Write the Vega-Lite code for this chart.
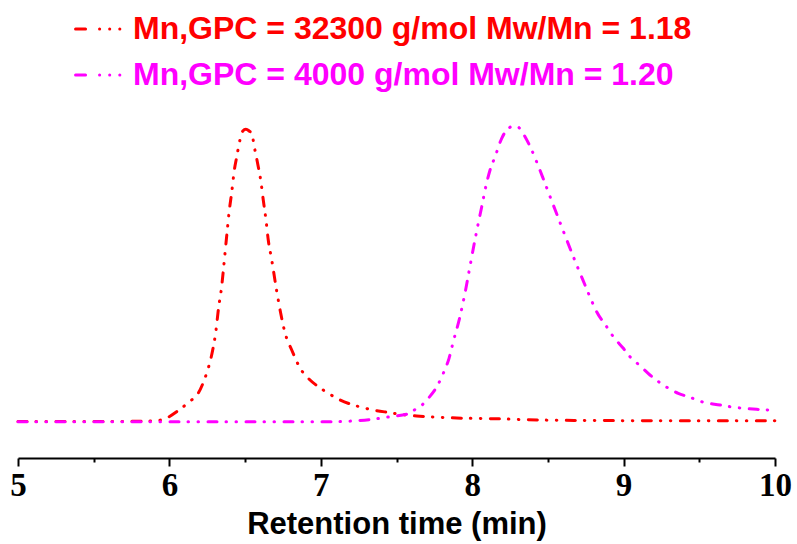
{
"$schema": "https://vega.github.io/schema/vega-lite/v6.json",
"width": 757, "height": 458,
"autosize": {"type": "none"},
"padding": {"left": 18, "top": 0, "right": 22, "bottom": 86},
"background": "white",
"config": {"view": {"stroke": null}},
"data": {"values": [
{"sample":"Mn,GPC = 32300 g/mol Mw/Mn = 1.18","time":5.0,"signal":0.17},
{"sample":"Mn,GPC = 32300 g/mol Mw/Mn = 1.18","time":5.54,"signal":0.17},
{"sample":"Mn,GPC = 32300 g/mol Mw/Mn = 1.18","time":5.81,"signal":0.24},
{"sample":"Mn,GPC = 32300 g/mol Mw/Mn = 1.18","time":5.916,"signal":0.44},
{"sample":"Mn,GPC = 32300 g/mol Mw/Mn = 1.18","time":5.982,"signal":1.35},
{"sample":"Mn,GPC = 32300 g/mol Mw/Mn = 1.18","time":6.048,"signal":3.48},
{"sample":"Mn,GPC = 32300 g/mol Mw/Mn = 1.18","time":6.092,"signal":5.17},
{"sample":"Mn,GPC = 32300 g/mol Mw/Mn = 1.18","time":6.147,"signal":7.43},
{"sample":"Mn,GPC = 32300 g/mol Mw/Mn = 1.18","time":6.191,"signal":9.8},
{"sample":"Mn,GPC = 32300 g/mol Mw/Mn = 1.18","time":6.235,"signal":14.86},
{"sample":"Mn,GPC = 32300 g/mol Mw/Mn = 1.18","time":6.257,"signal":18.24},
{"sample":"Mn,GPC = 32300 g/mol Mw/Mn = 1.18","time":6.286,"signal":24.32},
{"sample":"Mn,GPC = 32300 g/mol Mw/Mn = 1.18","time":6.308,"signal":31.08},
{"sample":"Mn,GPC = 32300 g/mol Mw/Mn = 1.18","time":6.323,"signal":37.84},
{"sample":"Mn,GPC = 32300 g/mol Mw/Mn = 1.18","time":6.345,"signal":45.71},
{"sample":"Mn,GPC = 32300 g/mol Mw/Mn = 1.18","time":6.363,"signal":54.73},
{"sample":"Mn,GPC = 32300 g/mol Mw/Mn = 1.18","time":6.378,"signal":62.6},
{"sample":"Mn,GPC = 32300 g/mol Mw/Mn = 1.18","time":6.396,"signal":71.62},
{"sample":"Mn,GPC = 32300 g/mol Mw/Mn = 1.18","time":6.411,"signal":77.36},
{"sample":"Mn,GPC = 32300 g/mol Mw/Mn = 1.18","time":6.429,"signal":85.14},
{"sample":"Mn,GPC = 32300 g/mol Mw/Mn = 1.18","time":6.445,"signal":89.63},
{"sample":"Mn,GPC = 32300 g/mol Mw/Mn = 1.18","time":6.466,"signal":95.27},
{"sample":"Mn,GPC = 32300 g/mol Mw/Mn = 1.18","time":6.485,"signal":98.3},
{"sample":"Mn,GPC = 32300 g/mol Mw/Mn = 1.18","time":6.505,"signal":98.9},
{"sample":"Mn,GPC = 32300 g/mol Mw/Mn = 1.18","time":6.525,"signal":98.4},
{"sample":"Mn,GPC = 32300 g/mol Mw/Mn = 1.18","time":6.544,"signal":97.3},
{"sample":"Mn,GPC = 32300 g/mol Mw/Mn = 1.18","time":6.565,"signal":91.89},
{"sample":"Mn,GPC = 32300 g/mol Mw/Mn = 1.18","time":6.587,"signal":86.25},
{"sample":"Mn,GPC = 32300 g/mol Mw/Mn = 1.18","time":6.603,"signal":81.76},
{"sample":"Mn,GPC = 32300 g/mol Mw/Mn = 1.18","time":6.62,"signal":75.0},
{"sample":"Mn,GPC = 32300 g/mol Mw/Mn = 1.18","time":6.638,"signal":68.24},
{"sample":"Mn,GPC = 32300 g/mol Mw/Mn = 1.18","time":6.653,"signal":61.49},
{"sample":"Mn,GPC = 32300 g/mol Mw/Mn = 1.18","time":6.676,"signal":54.73},
{"sample":"Mn,GPC = 32300 g/mol Mw/Mn = 1.18","time":6.704,"signal":45.71},
{"sample":"Mn,GPC = 32300 g/mol Mw/Mn = 1.18","time":6.731,"signal":37.84},
{"sample":"Mn,GPC = 32300 g/mol Mw/Mn = 1.18","time":6.764,"signal":30.07},
{"sample":"Mn,GPC = 32300 g/mol Mw/Mn = 1.18","time":6.808,"signal":24.32},
{"sample":"Mn,GPC = 32300 g/mol Mw/Mn = 1.18","time":6.863,"signal":18.24},
{"sample":"Mn,GPC = 32300 g/mol Mw/Mn = 1.18","time":6.929,"signal":14.19},
{"sample":"Mn,GPC = 32300 g/mol Mw/Mn = 1.18","time":6.983,"signal":11.93},
{"sample":"Mn,GPC = 32300 g/mol Mw/Mn = 1.18","time":7.05,"signal":9.7},
{"sample":"Mn,GPC = 32300 g/mol Mw/Mn = 1.18","time":7.127,"signal":7.43},
{"sample":"Mn,GPC = 32300 g/mol Mw/Mn = 1.18","time":7.237,"signal":5.41},
{"sample":"Mn,GPC = 32300 g/mol Mw/Mn = 1.18","time":7.347,"signal":4.05},
{"sample":"Mn,GPC = 32300 g/mol Mw/Mn = 1.18","time":7.457,"signal":3.14},
{"sample":"Mn,GPC = 32300 g/mol Mw/Mn = 1.18","time":7.523,"signal":2.6},
{"sample":"Mn,GPC = 32300 g/mol Mw/Mn = 1.18","time":7.633,"signal":2.03},
{"sample":"Mn,GPC = 32300 g/mol Mw/Mn = 1.18","time":7.787,"signal":1.59},
{"sample":"Mn,GPC = 32300 g/mol Mw/Mn = 1.18","time":7.898,"signal":1.35},
{"sample":"Mn,GPC = 32300 g/mol Mw/Mn = 1.18","time":8.139,"signal":1.11},
{"sample":"Mn,GPC = 32300 g/mol Mw/Mn = 1.18","time":8.58,"signal":0.57},
{"sample":"Mn,GPC = 32300 g/mol Mw/Mn = 1.18","time":9.174,"signal":0.44},
{"sample":"Mn,GPC = 32300 g/mol Mw/Mn = 1.18","time":10.0,"signal":0.41},
{"sample":"Mn,GPC = 4000 g/mol  Mw/Mn = 1.20","time":5.0,"signal":0.1},
{"sample":"Mn,GPC = 4000 g/mol  Mw/Mn = 1.20","time":6.863,"signal":0.1},
{"sample":"Mn,GPC = 4000 g/mol  Mw/Mn = 1.20","time":7.081,"signal":0.1},
{"sample":"Mn,GPC = 4000 g/mol  Mw/Mn = 1.20","time":7.237,"signal":0.44},
{"sample":"Mn,GPC = 4000 g/mol  Mw/Mn = 1.20","time":7.391,"signal":1.25},
{"sample":"Mn,GPC = 4000 g/mol  Mw/Mn = 1.20","time":7.457,"signal":1.79},
{"sample":"Mn,GPC = 4000 g/mol  Mw/Mn = 1.20","time":7.589,"signal":2.94},
{"sample":"Mn,GPC = 4000 g/mol  Mw/Mn = 1.20","time":7.622,"signal":4.2},
{"sample":"Mn,GPC = 4000 g/mol  Mw/Mn = 1.20","time":7.655,"signal":5.17},
{"sample":"Mn,GPC = 4000 g/mol  Mw/Mn = 1.20","time":7.71,"signal":8.01},
{"sample":"Mn,GPC = 4000 g/mol  Mw/Mn = 1.20","time":7.765,"signal":11.82},
{"sample":"Mn,GPC = 4000 g/mol  Mw/Mn = 1.20","time":7.809,"signal":16.45},
{"sample":"Mn,GPC = 4000 g/mol  Mw/Mn = 1.20","time":7.847,"signal":21.52},
{"sample":"Mn,GPC = 4000 g/mol  Mw/Mn = 1.20","time":7.875,"signal":27.13},
{"sample":"Mn,GPC = 4000 g/mol  Mw/Mn = 1.20","time":7.919,"signal":35.57},
{"sample":"Mn,GPC = 4000 g/mol  Mw/Mn = 1.20","time":7.952,"signal":43.48},
{"sample":"Mn,GPC = 4000 g/mol  Mw/Mn = 1.20","time":7.985,"signal":52.47},
{"sample":"Mn,GPC = 4000 g/mol  Mw/Mn = 1.20","time":8.018,"signal":61.49},
{"sample":"Mn,GPC = 4000 g/mol  Mw/Mn = 1.20","time":8.04,"signal":67.13},
{"sample":"Mn,GPC = 4000 g/mol  Mw/Mn = 1.20","time":8.063,"signal":72.74},
{"sample":"Mn,GPC = 4000 g/mol  Mw/Mn = 1.20","time":8.085,"signal":78.38},
{"sample":"Mn,GPC = 4000 g/mol  Mw/Mn = 1.20","time":8.118,"signal":85.14},
{"sample":"Mn,GPC = 4000 g/mol  Mw/Mn = 1.20","time":8.151,"signal":89.63},
{"sample":"Mn,GPC = 4000 g/mol  Mw/Mn = 1.20","time":8.195,"signal":95.85},
{"sample":"Mn,GPC = 4000 g/mol  Mw/Mn = 1.20","time":8.228,"signal":98.65},
{"sample":"Mn,GPC = 4000 g/mol  Mw/Mn = 1.20","time":8.26,"signal":99.8},
{"sample":"Mn,GPC = 4000 g/mol  Mw/Mn = 1.20","time":8.283,"signal":100.0},
{"sample":"Mn,GPC = 4000 g/mol  Mw/Mn = 1.20","time":8.31,"signal":99.4},
{"sample":"Mn,GPC = 4000 g/mol  Mw/Mn = 1.20","time":8.349,"signal":96.39},
{"sample":"Mn,GPC = 4000 g/mol  Mw/Mn = 1.20","time":8.393,"signal":91.89},
{"sample":"Mn,GPC = 4000 g/mol  Mw/Mn = 1.20","time":8.426,"signal":87.84},
{"sample":"Mn,GPC = 4000 g/mol  Mw/Mn = 1.20","time":8.47,"signal":82.09},
{"sample":"Mn,GPC = 4000 g/mol  Mw/Mn = 1.20","time":8.514,"signal":76.18},
{"sample":"Mn,GPC = 4000 g/mol  Mw/Mn = 1.20","time":8.547,"signal":71.79},
{"sample":"Mn,GPC = 4000 g/mol  Mw/Mn = 1.20","time":8.58,"signal":67.4},
{"sample":"Mn,GPC = 4000 g/mol  Mw/Mn = 1.20","time":8.613,"signal":63.01},
{"sample":"Mn,GPC = 4000 g/mol  Mw/Mn = 1.20","time":8.657,"signal":57.26},
{"sample":"Mn,GPC = 4000 g/mol  Mw/Mn = 1.20","time":8.701,"signal":51.69},
{"sample":"Mn,GPC = 4000 g/mol  Mw/Mn = 1.20","time":8.745,"signal":46.28},
{"sample":"Mn,GPC = 4000 g/mol  Mw/Mn = 1.20","time":8.778,"signal":42.23},
{"sample":"Mn,GPC = 4000 g/mol  Mw/Mn = 1.20","time":8.822,"signal":37.26},
{"sample":"Mn,GPC = 4000 g/mol  Mw/Mn = 1.20","time":8.888,"signal":32.2},
{"sample":"Mn,GPC = 4000 g/mol  Mw/Mn = 1.20","time":8.932,"signal":28.82},
{"sample":"Mn,GPC = 4000 g/mol  Mw/Mn = 1.20","time":8.998,"signal":24.9},
{"sample":"Mn,GPC = 4000 g/mol  Mw/Mn = 1.20","time":9.042,"signal":22.06},
{"sample":"Mn,GPC = 4000 g/mol  Mw/Mn = 1.20","time":9.108,"signal":19.02},
{"sample":"Mn,GPC = 4000 g/mol  Mw/Mn = 1.20","time":9.174,"signal":15.88},
{"sample":"Mn,GPC = 4000 g/mol  Mw/Mn = 1.20","time":9.262,"signal":12.5},
{"sample":"Mn,GPC = 4000 g/mol  Mw/Mn = 1.20","time":9.361,"signal":9.7},
{"sample":"Mn,GPC = 4000 g/mol  Mw/Mn = 1.20","time":9.439,"signal":8.34},
{"sample":"Mn,GPC = 4000 g/mol  Mw/Mn = 1.20","time":9.516,"signal":6.86},
{"sample":"Mn,GPC = 4000 g/mol  Mw/Mn = 1.20","time":9.637,"signal":5.74},
{"sample":"Mn,GPC = 4000 g/mol  Mw/Mn = 1.20","time":9.703,"signal":5.17},
{"sample":"Mn,GPC = 4000 g/mol  Mw/Mn = 1.20","time":9.791,"signal":4.63},
{"sample":"Mn,GPC = 4000 g/mol  Mw/Mn = 1.20","time":9.879,"signal":4.29},
{"sample":"Mn,GPC = 4000 g/mol  Mw/Mn = 1.20","time":9.978,"signal":4.05},
{"sample":"Mn,GPC = 4000 g/mol  Mw/Mn = 1.20","time":10.0,"signal":4.05}
]},
"mark": {"type": "line", "strokeWidth": 3, "strokeDash": [9, 9, 0.5, 9.5, 0.5, 9.5], "strokeCap": "round", "interpolate": "monotone"},
"encoding": {
  "x": {"field": "time", "type": "quantitative",
    "scale": {"domain": [5, 10], "nice": false, "zero": false},
    "axis": {"values": [5, 5.5, 6, 6.5, 7, 7.5, 8, 8.5, 9, 9.5, 10],
      "labelExpr": "datum.value % 1 === 0 ? '' + datum.value : ''",
      "tickSize": {"condition": {"test": "datum.value % 1 !== 0", "value": 4}, "value": 8},
      "tickWidth": 2, "tickColor": "black", "domainColor": "black", "domainWidth": 2, "grid": false,
      "labelFont": "Liberation Serif", "labelFontWeight": "bold", "labelFontSize": 33, "labelColor": "black",
      "labelPadding": 3, "labelFlush": false, "labelOverlap": false, "labelBound": false,
      "title": "Retention time (min)", "titleFont": "Liberation Sans", "titleFontWeight": "bold",
      "titleFontSize": 31, "titleColor": "black", "titlePadding": 7}},
  "y": {"field": "signal", "type": "quantitative",
    "scale": {"domain": [-12.16, 142.57], "nice": false, "zero": false}, "axis": null},
  "color": {"field": "sample", "type": "nominal",
    "scale": {"domain": ["Mn,GPC = 32300 g/mol Mw/Mn = 1.18", "Mn,GPC = 4000 g/mol  Mw/Mn = 1.20"], "range": ["#ff0000", "#ff00ff"]},
    "legend": {"orient": "none", "legendX": 56, "legendY": 4, "direction": "vertical", "title": null,
      "symbolType": "stroke", "symbolSize": 2200, "symbolStrokeWidth": 3,
      "symbolDash": [10, 14, 0.1, 10, 0.1, 10, 0.1, 10],
      "labelFont": "Liberation Sans", "labelFontWeight": "bold", "labelFontSize": 32, "labelLimit": 0,
      "labelOffset": 9, "rowPadding": 5, "padding": 0,
      "encode": {"labels": {"update": {"fill": {"scale": "color", "field": "value"}}},
                 "symbols": {"update": {"strokeCap": {"value": "round"}}}}}}
}
}
